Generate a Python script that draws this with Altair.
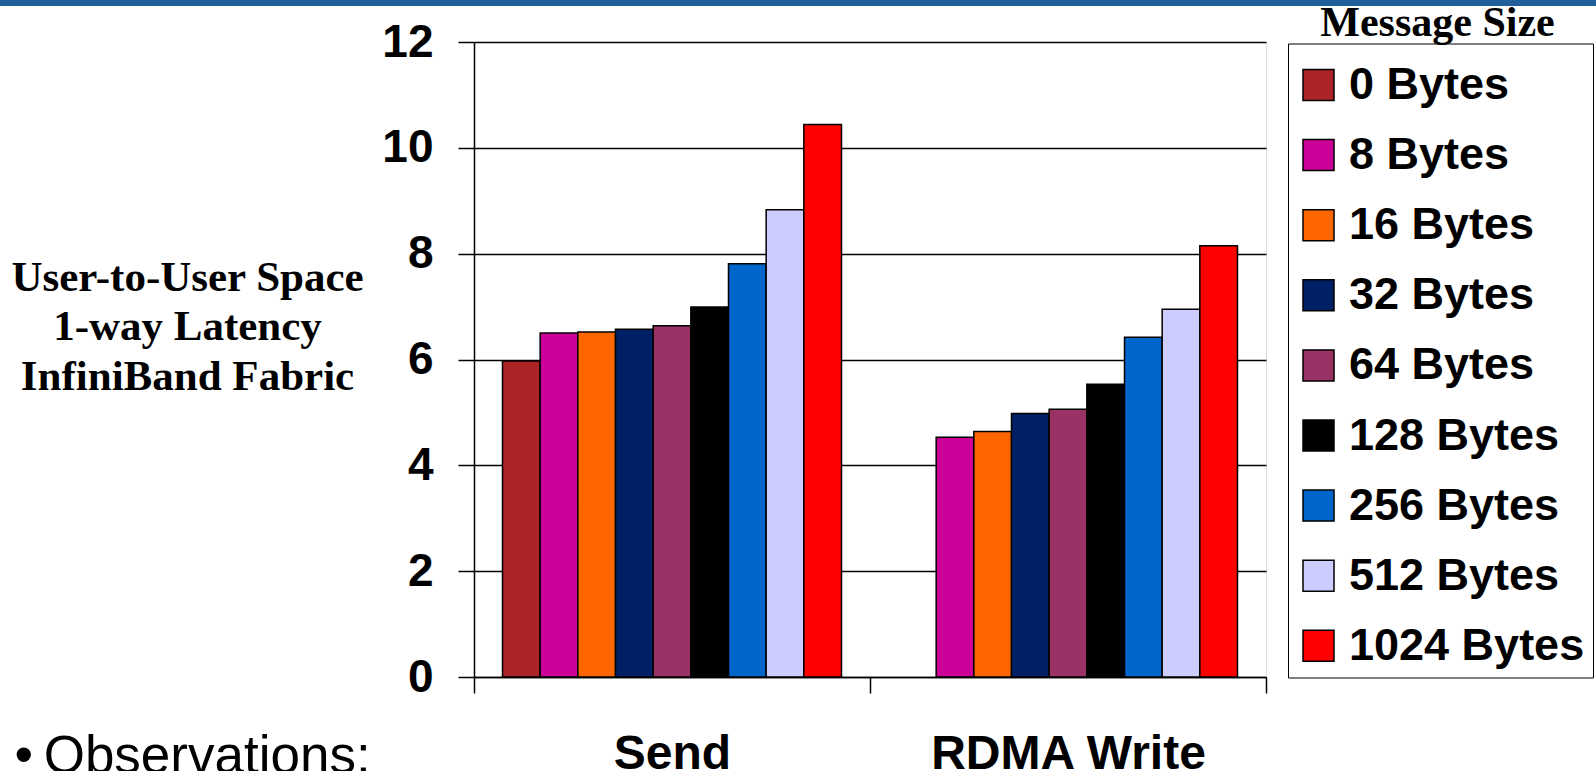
import altair as alt
import pandas as pd

# ---- data ----
operations = ["Send", "RDMA Write"]
sizes = ["0 Bytes", "8 Bytes", "16 Bytes", "32 Bytes", "64 Bytes",
         "128 Bytes", "256 Bytes", "512 Bytes", "1024 Bytes"]
send_latency = [5.97, 6.50, 6.52, 6.57, 6.64, 6.99, 7.81, 8.83, 10.44]
rdma_latency = [None, 4.53, 4.64, 4.98, 5.06, 5.53, 6.42, 6.95, 8.15]
size_colors = ["#AA2327", "#CC0099", "#FF6600", "#002066", "#993366",
               "#000000", "#0066CC", "#CCCCFF", "#FF0000"]
y_ticks = [0, 2, 4, 6, 8, 10, 12]

rows = []
for op, vals in zip(operations, [send_latency, rdma_latency]):
    for s, v in zip(sizes, vals):
        if v is not None:
            rows.append({"op": op, "size": s, "value": v})
df = pd.DataFrame(rows)

SANS = "Liberation Sans"
SERIF = "Liberation Serif"
Y_SCALE = alt.Scale(domain=[0, 12], nice=False)

bars = alt.Chart(df).mark_bar(stroke="black", strokeWidth=1.5).encode(
    x=alt.X(
        "op:N", sort=operations,
        scale=alt.Scale(paddingInner=0, paddingOuter=0),
        axis=alt.Axis(
            title="\u2022\u2009Observations:", labelAngle=0, grid=False, labelLimit=600,
            ticks=True, tickSize=16, tickBand="extent", tickColor="black", tickWidth=1.5,
            domain=True, domainColor="black", domainWidth=1.5,
            labelFont=SANS, labelFontSize=48, labelFontWeight="bold", labelColor="black",
            labelBaseline="alphabetic", labelPadding=75,
            titleFont=SANS, titleFontSize=53, titleFontWeight="normal", titleColor="black",
            titleX=-460, titleY=95, titleAlign="left", titleBaseline="alphabetic",
            titleLimit=800,
        ),
    ),
    xOffset=alt.XOffset("size:N", sort=sizes,
                        scale=alt.Scale(domain=sizes, paddingInner=0, paddingOuter=0.757)),
    y=alt.Y(
        "value:Q",
        scale=Y_SCALE,
        axis=alt.Axis(
            values=y_ticks, format="d",
            title=["User-to-User Space", "1-way Latency", "InfiniBand Fabric"],
            titleAngle=0, titleAlign="center", titleBaseline="middle",
            titleX=-287, titleY=235, titleLineHeight=49.5, titleLimit=800,
            titleFont=SERIF, titleFontSize=43, titleFontWeight="bold", titleColor="black",
            grid=True, gridColor="black", gridWidth=1.5, gridOpacity=1,
            ticks=True, tickSize=16, tickColor="black", tickWidth=1.5,
            domain=True, domainColor="black", domainWidth=1.5,
            labelFont=SANS, labelFontSize=46, labelFontWeight="bold", labelColor="black",
            labelPadding=25,
        ),
    ),
    color=alt.Color(
        "size:N", sort=sizes,
        scale=alt.Scale(domain=sizes, range=size_colors),
        legend=alt.Legend(
            title=" ", titleFontSize=4, titlePadding=7,
            orient="none", legendX=814, legendY=1.5,
            strokeColor="black", padding=8,
            symbolType="square", symbolSize=961, symbolStrokeColor="black",
            symbolStrokeWidth=1.5, symbolOpacity=1,
            labelFont=SANS, labelFontSize=45, labelFontWeight="bold", labelColor="black",
            labelOffset=8, rowPadding=24.1, labelLimit=400,
        ),
    ),
)

# right-hand axis used only to carry the legend heading "Message Size"
heading = alt.Chart(df).mark_point(opacity=0).encode(
    y=alt.Y(
        "value:Q", scale=Y_SCALE,
        axis=alt.Axis(
            orient="right", labels=False, ticks=False, domain=False, grid=False,
            title="Message Size", titleAngle=0, titleAlign="center",
            titleBaseline="alphabetic", titleX=171, titleY=-7,
            titleFont=SERIF, titleFontSize=42, titleFontWeight="bold", titleColor="black",
            titleLimit=800,
        ),
    ),
)

band = alt.Chart(pd.DataFrame({"a": [0]})).mark_rule(color="#215F9B", strokeWidth=6).encode(
    x=alt.value(-474), x2=alt.value(1122), y=alt.value(-39)
)

chart = alt.layer(bars, heading, band).resolve_axis(y="independent").properties(
    width=792, height=635,
    padding={"left": 474, "top": 42, "right": 330, "bottom": 94},
    autosize=alt.AutoSizeParams(type="none"),
).configure_view(stroke=None).configure(background="white")

chart.save("out.html", embed_options={"renderer": "svg", "actions": False})
